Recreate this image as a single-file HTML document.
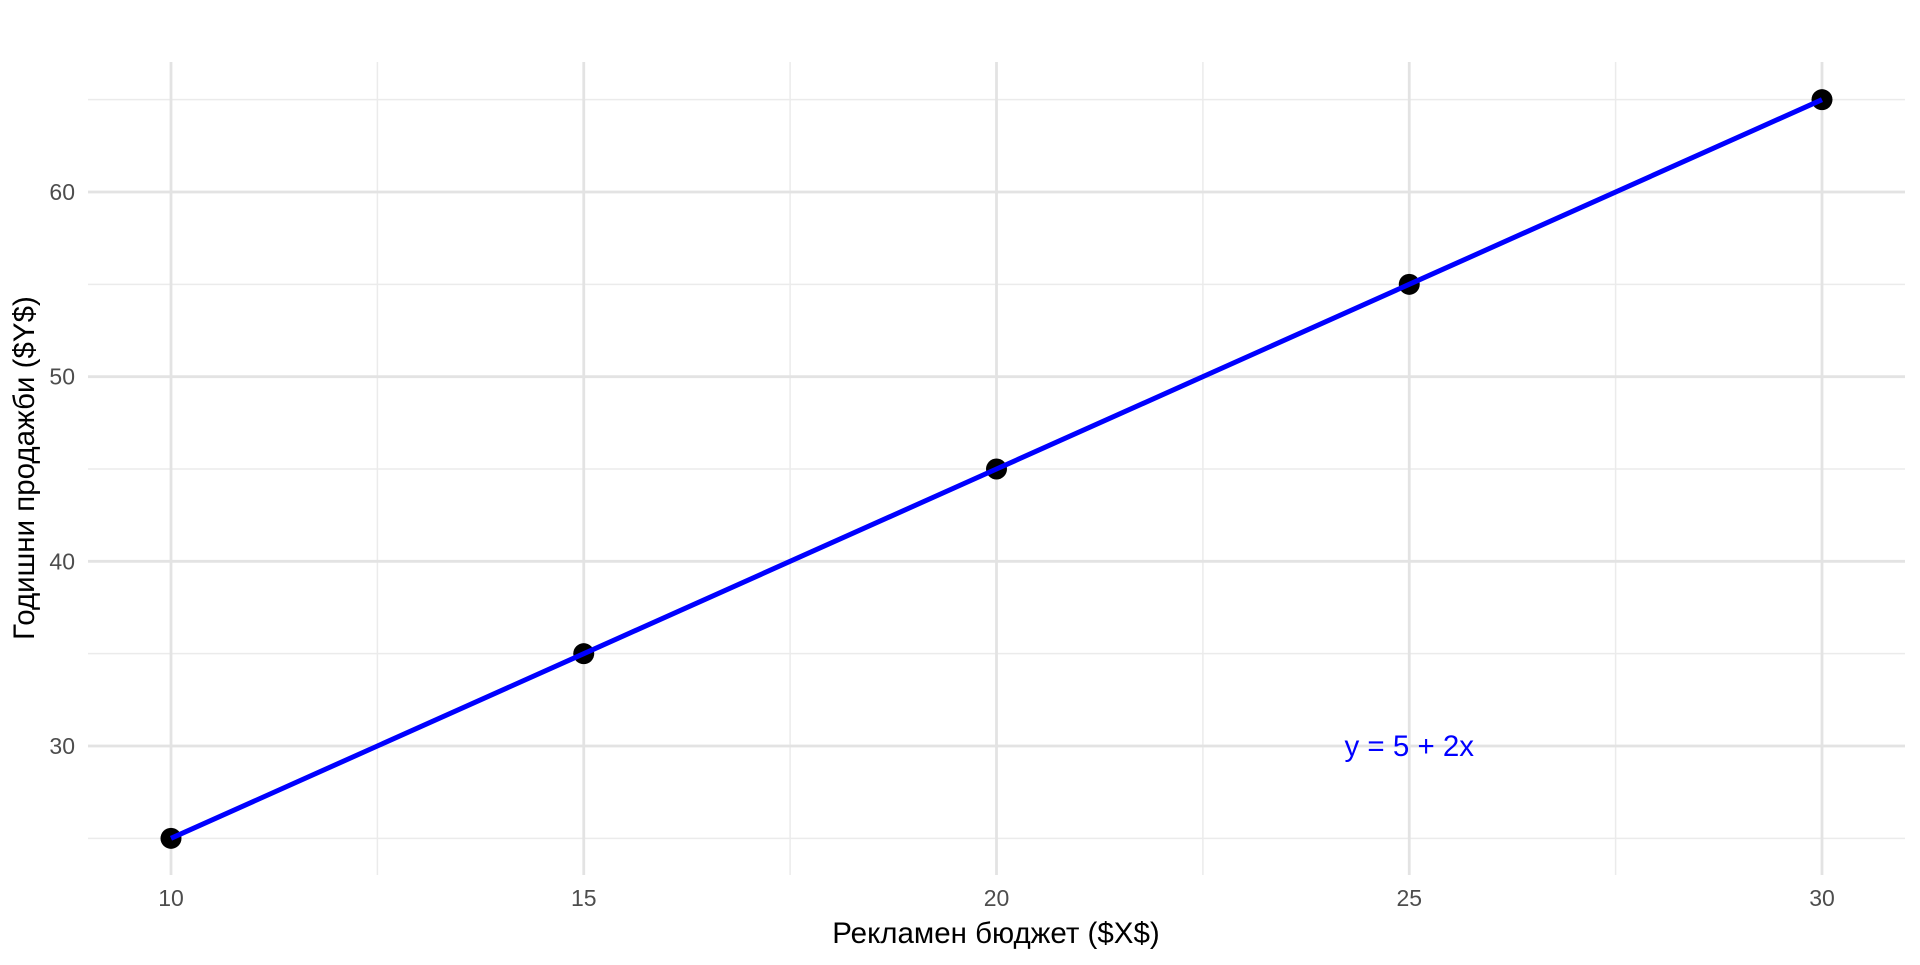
<!DOCTYPE html>
<html><head><meta charset="utf-8"><style>
html,body{margin:0;padding:0;background:#fff;}
svg text{font-family:"Liberation Sans",sans-serif;}
</style></head><body>
<svg id="chart" width="1920" height="960" xmlns="http://www.w3.org/2000/svg">
<g id="grid"></g>
<g id="marks"></g>
<g id="axes"></g>
<text x="996" y="943" text-anchor="middle" font-size="29.5" fill="#000">Рекламен бюджет ($X$)</text>
<text transform="translate(34,468) rotate(-90)" text-anchor="middle" font-size="29.5" fill="#000">Годишни продажби ($Y$)</text>
</svg>
<script>
const xValues = [10, 15, 20, 25, 30];
const yValues = [25, 35, 45, 55, 65];
const xTicks = [10, 15, 20, 25, 30];
const xMinor = [12.5, 17.5, 22.5, 27.5];
const yTicks = [30, 40, 50, 60];
const yMinor = [25, 35, 45, 55, 65];
const annotation = {x: 25, y: 30, text: "y = 5 + 2x"};

const NS = "http://www.w3.org/2000/svg";
const L = 88, R = 1905, T = 62, B = 875;
const sx = v => 171 + (v - 10) * (1822 - 171) / 20;
const sy = v => 746 - (v - 30) * (746 - 192) / 30;
function mk(tag, attrs, parent) {
  const e = document.createElementNS(NS, tag);
  for (const k in attrs) e.setAttribute(k, attrs[k]);
  document.getElementById(parent).appendChild(e);
  return e;
}
xMinor.forEach(v => {
  const e = mk('line', {x1: sx(v), x2: sx(v), y1: T, y2: B, stroke: '#ebebeb', 'stroke-width': 1.5}, 'grid');
  
  
});
yMinor.forEach(v => {
  const e = mk('line', {x1: L, x2: R, y1: sy(v), y2: sy(v), stroke: '#ebebeb', 'stroke-width': 1.5}, 'grid');
  
  
});
xTicks.forEach(v => {
  const e = mk('line', {x1: sx(v), x2: sx(v), y1: T, y2: B, stroke: '#e3e3e3', 'stroke-width': 2.8}, 'grid');
  
  
  const t = mk('text', {x: sx(v), y: 906, 'text-anchor': 'middle', 'font-size': 23, fill: '#4d4d4d'}, 'axes');
  t.textContent = v;
  
  
});
yTicks.forEach(v => {
  const e = mk('line', {x1: L, x2: R, y1: sy(v), y2: sy(v), stroke: '#e3e3e3', 'stroke-width': 2.8}, 'grid');
  
  
  const t = mk('text', {x: 75, y: sy(v) + 8, 'text-anchor': 'end', 'font-size': 23, fill: '#4d4d4d'}, 'axes');
  t.textContent = v;
  
  
});
xValues.forEach((v, i) => {
  const c = mk('circle', {cx: sx(v), cy: sy(yValues[i]), r: 10.5, fill: '#000'}, 'marks');
  
  
});
const pl = mk('polyline', {points: xValues.map((v, i) => sx(v) + ',' + sy(yValues[i])).join(' '), fill: 'none', stroke: '#0000ff', 'stroke-width': 5}, 'marks');


const at = mk('text', {x: sx(annotation.x), y: sy(annotation.y) + 10, 'text-anchor': 'middle', 'font-size': 29.5, fill: '#0000ff'}, 'marks');
at.textContent = annotation.text;


</script>
</body></html>
